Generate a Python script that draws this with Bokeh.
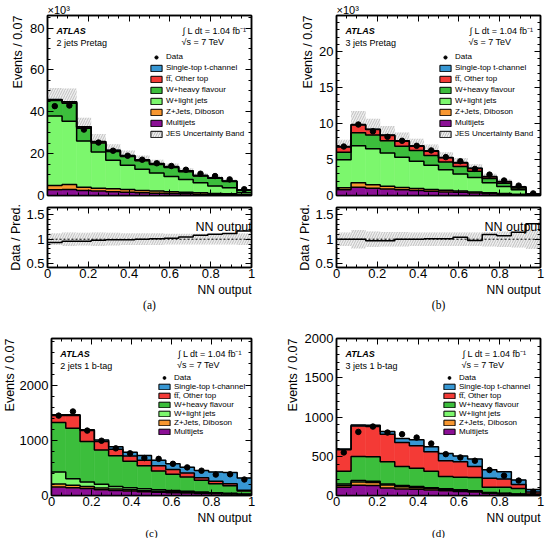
import numpy as np
from bokeh.plotting import figure
from bokeh.layouts import column, row
from bokeh.models import (Label, Legend, LegendItem, LinearAxis, FixedTicker,
                          NumeralTickFormatter, CustomJSTickFormatter, Span, Title)
from bokeh.embed import file_html
from bokeh.resources import INLINE
from bokeh.core.properties import value

SANS = "Liberation Sans"
SERIF = "Liberation Serif"

# NN output binning: 14 bins of width ~0.07
bin_edges = np.linspace(0.0, 1.0, 15)
bin_centres = 0.5 * (bin_edges[:-1] + bin_edges[1:])
x_major = [0.0, 0.2, 0.4, 0.6, 0.8, 1.0]
x_minor = [round(0.05 * i, 2) for i in range(21)]

# stack order, bottom to top
process_labels = ["Multijets", "Z+Jets, Diboson", "W+light jets", "W+heavy flavour",
                  "tt\u0305, Other top", "Single-top t-channel"]
process_colors = ["#8b0f95", "#f7962f", "#7cf76d", "#3cbe3c", "#f43a36", "#3797d3"]

# (a) 2 jets pretag, 10^3 events per bin
a_multijet = [2.7, 2.9, 2.4, 2.1, 1.8, 1.6, 1.3, 1.1, 0.9, 0.8, 0.6, 0.5, 0.4, 0.2]
a_zjets = [2.1, 2.4, 1.6, 1.4, 1.4, 1.3, 1.1, 1.0, 0.9, 0.8, 0.7, 0.5, 0.4, 0.2]
a_wlight = [33.2, 30.2, 22.0, 17.3, 13.6, 11.5, 10.1, 8.6, 7.3, 6.1, 4.8, 3.5, 2.9, 0.9]
a_wheavy = [7.4, 8.6, 6.1, 4.3, 4.2, 4.2, 4.1, 4.1, 4.3, 3.7, 3.2, 3.7, 3.0, 1.2]
a_ttbar = [0.4, 0.6, 0.6, 0.55, 0.5, 0.45, 0.4, 0.35, 0.3, 0.28, 0.22, 0.18, 0.12, 0.04]
a_stop = [0.1, 0.15, 0.15, 0.14, 0.13, 0.12, 0.11, 0.1, 0.1, 0.09, 0.08, 0.07, 0.06, 0.03]
a_data = [42.7, 43.0, 31.5, 25.3, 21.4, 19.0, 17.1, 15.4, 14.1, 12.3, 10.4, 9.3, 7.7, 3.0]
a_jes = [0.12, 0.14, 0.13, 0.14, 0.13, 0.12, 0.12, 0.12, 0.11, 0.11, 0.11, 0.11, 0.11, 0.12]

# (b) 3 jets pretag, 10^3 events per bin
b_multijet = [0.8, 1.15, 1.0, 0.9, 0.8, 0.7, 0.6, 0.5, 0.45, 0.35, 0.25, 0.18, 0.1, 0.03]
b_zjets = [0.27, 0.61, 0.5, 0.4, 0.3, 0.27, 0.25, 0.22, 0.17, 0.15, 0.13, 0.1, 0.06, 0.02]
b_wlight = [3.88, 5.14, 5.0, 4.6, 4.2, 3.8, 3.35, 2.85, 2.38, 2.0, 1.38, 0.97, 0.64, 0.05]
b_wheavy = [1.05, 1.8, 1.9, 1.7, 1.55, 1.48, 1.35, 1.1, 1.03, 0.88, 0.6, 0.46, 0.25, 0.05]
b_ttbar = [0.75, 1.1, 0.75, 0.75, 0.7, 0.6, 0.6, 0.56, 0.5, 0.37, 0.24, 0.19, 0.12, 0.05]
b_stop = [0.05, 0.06, 0.05, 0.05, 0.05, 0.05, 0.05, 0.05, 0.05, 0.05, 0.04, 0.04, 0.03, 0.02]
b_data = [6.8, 9.86, 8.92, 8.15, 7.6, 6.9, 6.26, 5.33, 4.76, 3.69, 2.9, 2.08, 1.37, 0.29]
b_jes = [0.14, 0.19, 0.16, 0.15, 0.15, 0.14, 0.14, 0.14, 0.14, 0.14, 0.15, 0.16, 0.17, 0.2]

# (c) 2 jets 1 b-tag, events per bin
c_multijet = [153, 141, 128, 104, 92, 80, 67, 60, 52, 45, 38, 30, 25, 15]
c_zjets = [55, 45, 37, 30, 27, 24, 20, 18, 15, 13, 11, 9, 7, 4]
c_wlight = [220, 120, 80, 68, 46, 37, 35, 26, 23, 20, 16, 13, 10, 6]
c_wheavy = [899, 917, 733, 624, 557, 483, 416, 342, 295, 258, 210, 162, 135, 55]
c_ttbar = [125, 230, 200, 152, 116, 92, 104, 92, 86, 74, 49, 43, 37, 15]
c_stop = [16, 15, 15, 31, 49, 67, 86, 104, 104, 104, 129, 171, 202, 223]
c_data = [1450, 1525, 1178, 994, 856, 765, 680, 665, 575, 510, 450, 380, 385, 290]

# (d) 3 jets 1 b-tag, events per bin
d_multijet = [106, 131, 127, 97, 84, 80, 70, 60, 52, 45, 25, 20, 12, 5]
d_zjets = [21, 42, 38, 38, 26, 20, 18, 15, 13, 10, 7, 6, 4, 2]
d_wlight = [21, 17, 16, 13, 17, 15, 12, 10, 9, 7, 6, 4, 3, 1]
d_wheavy = [160, 308, 313, 282, 244, 231, 208, 156, 158, 166, 67, 75, 71, 12]
d_ttbar = [276, 388, 384, 351, 304, 287, 249, 202, 199, 143, 114, 106, 49, 25]
d_stop = [7, 13, 17, 33, 51, 76, 63, 93, 71, 93, 110, 93, 59, 30]
d_data = [548, 810, 878, 802, 781, 738, 662, 527, 485, 443, 325, 253, 190, 48]

BAND_FILL = "#efefef"
BAND_HATCH = "#b4b4b4"
NO_LABELS = CustomJSTickFormatter(code="return ''")


class Frame:
    """Page-pixel geometry of a plotting frame, used to place annotations."""

    def __init__(self, left, top, width, height, xr, yr):
        self.left, self.top, self.width, self.height = left, top, width, height
        self.xr, self.yr = xr, yr

    def x(self, px):
        return self.xr[0] + (px - self.left) / self.width * (self.xr[1] - self.xr[0])

    def y(self, py):
        return self.yr[1] - (py - self.top) / self.height * (self.yr[1] - self.yr[0])


def make_figure(frame, fig_w, fig_h, border):
    bl, br, bt, bb = border
    p = figure(width=fig_w, height=fig_h, x_range=frame.xr, y_range=frame.yr,
               output_backend="svg", toolbar_location=None,
               min_border_left=bl, min_border_right=br,
               min_border_top=bt, min_border_bottom=bb)
    p.xgrid.visible = False
    p.ygrid.visible = False
    p.outline_line_color = "black"
    p.outline_line_width = 1.5
    p.background_fill_color = "white"
    p.border_fill_color = "white"
    return p


def style_axes(p, y_major, y_minor, x_labels, tick_len=6):
    top_ax = LinearAxis()
    right_ax = LinearAxis()
    p.add_layout(top_ax, "above")
    p.add_layout(right_ax, "right")
    for ax in p.xaxis:
        ax.ticker = FixedTicker(ticks=x_major, minor_ticks=x_minor)
    for ax in p.yaxis:
        ax.ticker = FixedTicker(ticks=y_major, minor_ticks=y_minor)
    for ax in p.axis:
        ax.major_tick_in = tick_len
        ax.major_tick_out = 0
        ax.minor_tick_in = tick_len // 2
        ax.minor_tick_out = 0
        ax.axis_line_color = "black"
        ax.axis_line_width = 1.5
        ax.major_tick_line_color = "black"
        ax.minor_tick_line_color = "black"
        ax.major_label_text_font = SANS
        ax.major_label_text_font_size = "13px"
        ax.major_label_text_color = "black"
        ax.major_label_standoff = 3
        ax.formatter = NumeralTickFormatter(format="0.[0]")
    p.below[0].major_label_standoff = 1
    hidden = [top_ax, right_ax]
    if not x_labels:
        hidden.append(p.below[0])
    for ax in hidden:
        ax.formatter = NO_LABELS
        ax.major_label_text_font_size = "1px"
        ax.major_label_standoff = 0


def side_title(p, text, side, align, size="12.5px", font=SANS, standoff=0, offset=0):
    p.add_layout(Title(text=text, align=align, text_font=font, text_font_size=size,
                       text_font_style="normal", text_color="black",
                       standoff=standoff, offset=offset), side)


def draw_stack(p, components):
    base = np.zeros(len(bin_centres))
    tops = []
    for vals, color in zip(components, process_colors):
        top = base + np.asarray(vals, dtype=float)
        p.quad(left=bin_edges[:-1], right=bin_edges[1:], bottom=base, top=top,
               fill_color=color, line_color=color, line_width=0.6)
        tops.append(top)
        base = top
    for top in tops:
        p.step(x=bin_edges, y=np.append(top, top[-1]), mode="after",
               line_color="black", line_width=1.5)
    return base


def draw_band(p, centre, rel):
    rel = np.asarray(rel)
    p.quad(left=bin_edges[:-1], right=bin_edges[1:],
           bottom=centre * (1 - rel), top=centre * (1 + rel),
           fill_color=BAND_FILL, line_color=None,
           hatch_pattern="/", hatch_color=BAND_HATCH, hatch_scale=5, hatch_weight=0.8)


def add_legend(p, data_r, with_band, loc, label_h, glyph_h):
    items = [LegendItem(label="Data", renderers=[data_r])]
    nan = [np.nan]
    for name, color in reversed(list(zip(process_labels, process_colors))):
        proxy = p.quad(left=nan, right=nan, top=nan, bottom=nan, fill_color=color,
                       line_color="black", line_width=1)
        items.append(LegendItem(label=name, renderers=[proxy]))
    if with_band:
        proxy = p.quad(left=nan, right=nan, top=nan, bottom=nan, fill_color=BAND_FILL,
                       hatch_pattern="/", hatch_color=BAND_HATCH, hatch_scale=5,
                       line_color="black", line_width=1)
        items.append(LegendItem(label="JES Uncertainty Band", renderers=[proxy]))
    leg = Legend(items=items, location=loc, label_text_font=SANS,
                 label_text_font_size="8px", label_text_color="black",
                 glyph_width=14, glyph_height=glyph_h, label_height=label_h,
                 label_standoff=3, spacing=0, padding=0, margin=0,
                 border_line_color=None, background_fill_alpha=0)
    p.add_layout(leg)


def text_label(p, x, y, text, size="9px", style="normal", font=SANS,
               align="left", baseline="middle"):
    p.add_layout(Label(x=x, y=y, text=text, text_font=font, text_font_size=size,
                       text_font_style=style, text_align=align,
                       text_baseline=baseline, text_color="black"))


def atlas_texts(p, fr, px_left, py_row1, channel, px_lumi):
    text_label(p, fr.x(px_left), fr.y(py_row1), "ATLAS", style="bold italic")
    text_label(p, fr.x(px_left), fr.y(py_row1 + 12), channel)
    text_label(p, fr.x(px_lumi), fr.y(py_row1), "\u222b L dt = 1.04 fb\u207b\u00b9")
    text_label(p, fr.x(px_lumi - 1), fr.y(py_row1 + 11.5), "\u221as = 7 TeV")


def main_panel(fr, fig_w, border, comps, data, jes, y_major, y_minor, channel,
               leg_loc, lumi_px, x_labels, label_h, glyph_h, scale_text, ylab_standoff):
    p = make_figure(fr, fig_w, border[2] + fr.height + border[3], border)
    style_axes(p, y_major, y_minor, x_labels)
    total = np.sum(np.asarray(comps, dtype=float), axis=0)
    if jes is not None:
        draw_band(p, total, jes)
    draw_stack(p, comps)
    data_r = p.scatter(x=bin_centres, y=data, size=5.5, color="black")
    add_legend(p, data_r, jes is not None, leg_loc, label_h, glyph_h)
    atlas_texts(p, fr, fr.left + 9, fr.top + 15, channel, lumi_px)
    side_title(p, "Events / 0.07", "left", "right", standoff=ylab_standoff)
    if scale_text:
        side_title(p, "\u00d710\u00b3", "above", "left", size="11px")
    return p, total


def ratio_panel(fr, fig_w, border, data, total, jes, tag):
    p = make_figure(fr, fig_w, border[2] + fr.height + border[3], border)
    style_axes(p, [0.5, 1.0, 1.5], [round(0.1 * i, 1) for i in range(4, 17)], True)
    draw_band(p, np.ones(len(bin_centres)), jes)
    p.add_layout(Span(location=1.0, dimension="width", line_color="black",
                      line_width=1, line_dash="2 2"))
    ratio = np.asarray(data) / total
    p.step(x=bin_edges, y=np.append(ratio, ratio[-1]), mode="after",
           line_color="black", line_width=1.5)
    p.text(x=[fr.x(fr.left + 148)], y=[fr.y(fr.top + 19)], text=["NN output"],
           text_font=value(SANS), text_font_size="12.5px", text_baseline="alphabetic",
           text_color="black")
    side_title(p, "Data / Pred.", "left", "center", standoff=2)
    side_title(p, "NN output", "below", "right", size="12px")
    side_title(p, tag, "below", "center", size="11.5px", font=SERIF)
    return p


# geometry of the six frames on the page
fa = Frame(47, 15, 204, 180, (0, 1), (0, 86))
fb = Frame(336, 15, 204, 180, (0, 1), (0, 25))
fa_r = Frame(47, 207, 204, 60, (0, 1), (0.42, 1.65))
fb_r = Frame(336, 207, 204, 60, (0, 1), (0.42, 1.65))
fc = Frame(47, 338, 204, 157, (0, 1), (0, 2850))
fd = Frame(336, 338, 204, 157, (0, 1), (0, 2000))

left_b = (47, 21)
right_b = (64, 5)

pa, tot_a = main_panel(fa, 272, left_b + (15, 8),
                       [a_multijet, a_zjets, a_wlight, a_wheavy, a_ttbar, a_stop],
                       a_data, a_jes, [0, 20, 40, 60, 80], list(range(0, 87, 5)),
                       "2 jets Pretag", (102, 56), 182, False, 11, 8, True, 5)
pb, tot_b = main_panel(fb, 273, right_b + (15, 8),
                       [b_multijet, b_zjets, b_wlight, b_wheavy, b_ttbar, b_stop],
                       b_data, b_jes, [0, 5, 10, 15, 20], list(range(0, 26)),
                       "3 jets Pretag", (102, 56), 469, False, 11, 8, True, 3)
pa_r = ratio_panel(fa_r, 272, left_b + (4, 53), a_data, tot_a, a_jes, "(a)")
pb_r = ratio_panel(fb_r, 273, right_b + (4, 53), b_data, tot_b, b_jes, "(b)")

pc, tot_c = main_panel(fc, 272, left_b + (18, 43),
                       [c_multijet, c_zjets, c_wlight, c_wheavy, c_ttbar, c_stop],
                       c_data, None, [0, 1000, 2000], list(range(0, 2851, 200)),
                       "2 jets 1 b-tag", (106, 59), 176, True, 9, 7, False, 0)
pd, tot_d = main_panel(fd, 273, right_b + (18, 43),
                       [d_multijet, d_zjets, d_wlight, d_wheavy, d_ttbar, d_stop],
                       d_data, None, [0, 500, 1000, 1500, 2000], list(range(0, 2001, 100)),
                       "3 jets 1 b-tag", (106, 59), 462, True, 9, 7, False, 4)

for p, tag in [(pc, "(c)"), (pd, "(d)")]:
    side_title(p, "NN output", "below", "right", size="12px")
    side_title(p, tag, "below", "center", size="11px", font=SERIF)

layout = column(row(pa, pb), row(pa_r, pb_r), row(pc, pd))
open("out.html", "w").write(file_html(layout, INLINE))
